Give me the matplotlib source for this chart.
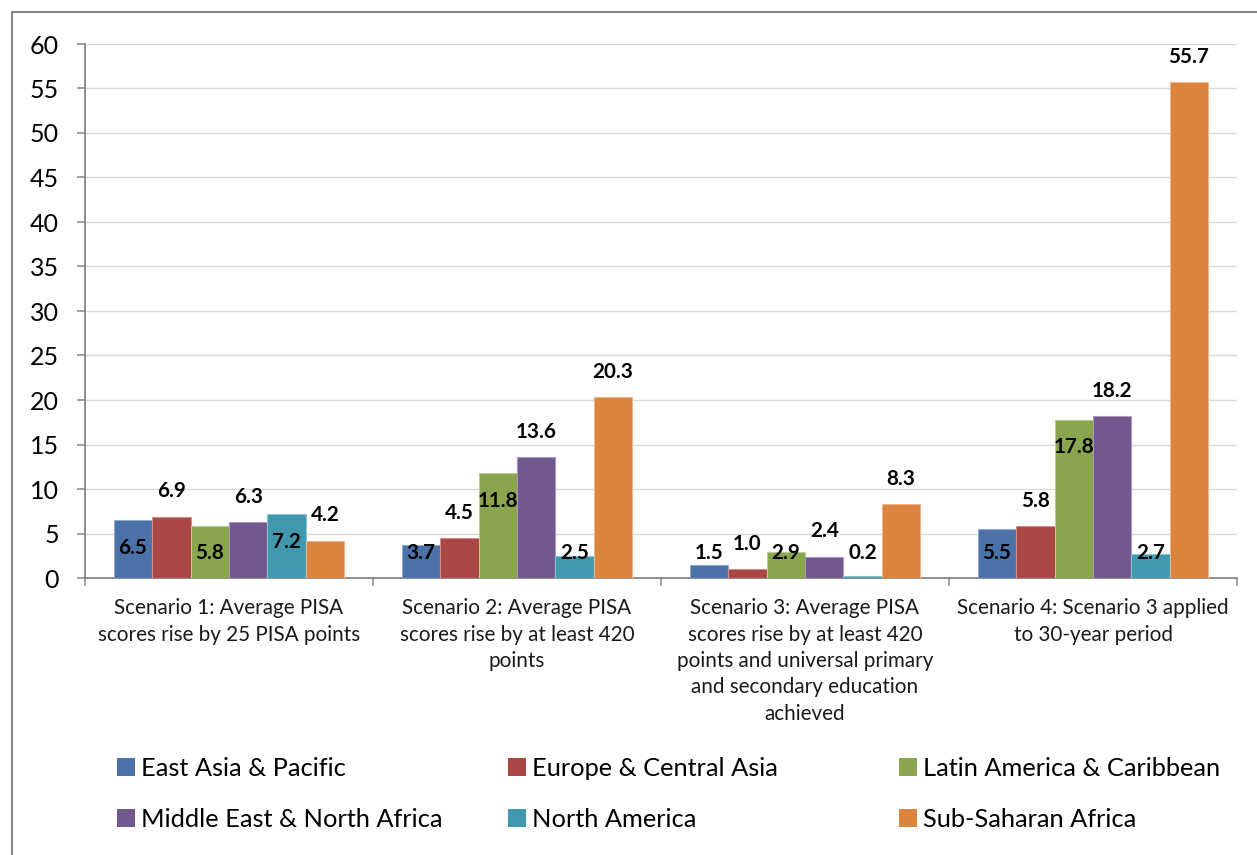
import matplotlib
matplotlib.use("Agg")
import matplotlib.pyplot as plt
from matplotlib.patches import Rectangle, Patch
import numpy as np

plt.rcParams['font.family'] = ['Lato', 'DejaVu Sans']

categories = [
    "Scenario 1: Average PISA\nscores rise by 25 PISA points",
    "Scenario 2: Average PISA\nscores rise by at least 420\npoints",
    "Scenario 3: Average PISA\nscores rise by at least 420\npoints and universal primary\nand secondary education\nachieved",
    "Scenario 4: Scenario 3 applied\nto 30-year period",
]
regions = ["East Asia & Pacific", "Europe & Central Asia", "Latin America & Caribbean",
           "Middle East & North Africa", "North America", "Sub-Saharan Africa"]
east_asia = [6.5, 3.7, 1.5, 5.5]
europe_central_asia = [6.9, 4.5, 1.0, 5.8]
latin_america = [5.8, 11.8, 2.9, 17.8]
middle_east = [6.3, 13.6, 2.4, 18.2]
north_america = [7.2, 2.5, 0.2, 2.7]
sub_saharan = [4.2, 20.3, 8.3, 55.7]
series = [east_asia, europe_central_asia, latin_america, middle_east, north_america, sub_saharan]

colors = ["#4A72A9", "#AA4644", "#89A54E", "#71588F", "#4198AF", "#DB843D"]
edges = ["#8fa9cf", "#cf8f8d", "#b9cc94", "#a898bd", "#8cc4d3", "#efb68a"]

W, H = 1257, 855
fig = plt.figure(figsize=(W / 100, H / 100), dpi=100)
ax = fig.add_axes([85 / W, 1 - 578 / H, (1237 - 85) / W, (578 - 44) / H])

x = np.arange(len(categories))
bw = 1 / 7.5
for i, vals in enumerate(series):
    xs = x + (i - 2.5) * bw
    ax.bar(xs, vals, width=bw, color=colors[i], edgecolor=edges[i], linewidth=0.8, zorder=3)
    for xi, v in zip(xs, vals):
        # labels alternate between inside the bar and above it
        if i % 2 == 0:
            ly = max(v - 3.1, 2.85)
        else:
            ly = v + 2.85
        ax.text(xi, ly, f"{v:.1f}", ha='center', va='center', fontsize=14.9,
                fontweight='bold', color='black', zorder=4)

ax.set_xlim(-0.5, 3.5)
ax.set_ylim(0, 60)
ax.set_yticks(np.arange(0, 61, 5))
ax.yaxis.grid(True, color='#d9d9d9', linewidth=1.0, zorder=0)
ax.set_axisbelow(True)

for s in ['top', 'right']:
    ax.spines[s].set_visible(False)
for s in ['left', 'bottom']:
    ax.spines[s].set_color('#868686')
    ax.spines[s].set_linewidth(1.3)

ax.tick_params(axis='y', length=5.8, width=1.1, color='#868686', pad=13,
               labelsize=18, labelcolor='black')
ax.set_xticks(np.arange(-0.5, 3.6, 1.0))
ax.set_xticklabels([])
ax.tick_params(axis='x', length=5.8, width=1.1, color='#868686')

for xi, lab in zip(x, categories):
    ax.annotate(lab, xy=(xi, 0), xycoords=('data', 'axes fraction'),
                xytext=(0, -14.5), textcoords='offset points', ha='center', va='top',
                fontsize=14.85, linespacing=1.4, color='#1a1a1a')

# legend: three columns, two rows
handles = [Patch(facecolor=c, edgecolor='none') for c in colors]
col_x = [117, 508, 899]
for c in range(3):
    hs = [handles[c], handles[c + 3]]
    ls = [regions[c], regions[c + 3]]
    fig.legend(hs, ls, loc='upper left', bbox_to_anchor=(col_x[c] / W, 1 - 757 / H),
               frameon=False, fontsize=18.3, handlelength=0.7, handleheight=0.7,
               handletextpad=0.25, labelspacing=1.1, borderpad=0, borderaxespad=0)

fig.add_artist(Rectangle((12 / W, -0.05), 1.2, 1 - 12 / H + 0.05, transform=fig.transFigure,
                         fill=False, edgecolor='#868686', linewidth=1.5))

fig.savefig("out.png", dpi=100)
